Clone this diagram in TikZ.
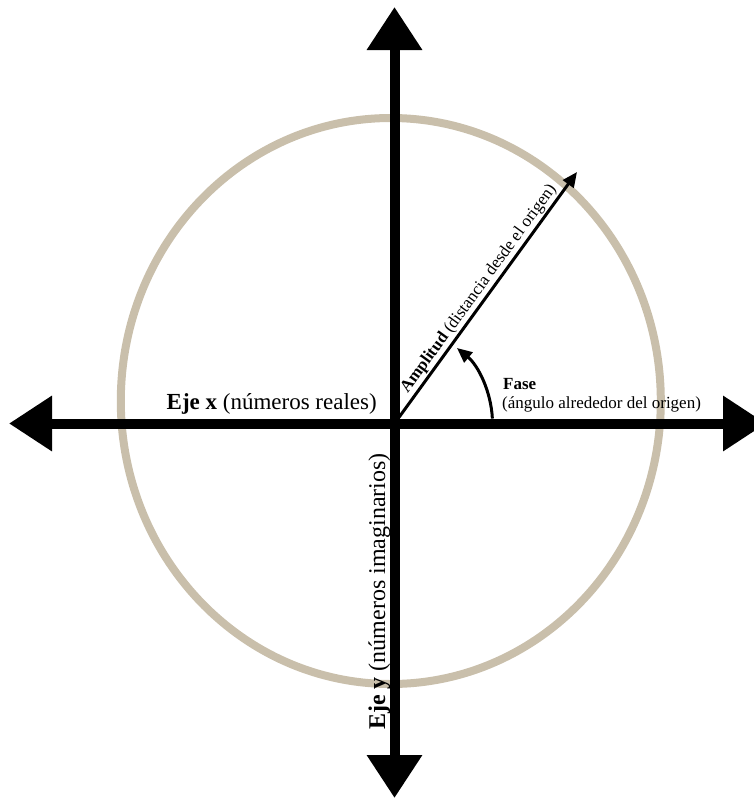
\documentclass[tikz,border=0pt]{standalone}
\usepackage{fontspec}
\setmainfont{Liberation Serif}
\usetikzlibrary{arrows.meta}
\definecolor{ringc}{RGB}{201,191,171}
\begin{document}
\begin{tikzpicture}[x=1pt,y=1pt,
  axisline/.style={line width=10pt, {Triangle[length=43pt,width=53pt]}-{Triangle[length=43pt,width=53pt]}},
  thinarrow/.style={line width=3pt, -{Triangle[length=15pt,width=13pt]}},
  bigtext/.style={inner sep=0pt, font=\fontsize{23}{27}\selectfont},
  smalltext/.style={inner sep=0pt, font=\fontsize{17}{20}\selectfont}]
\useasboundingbox (0,0) rectangle (754,-801);
% ring
\draw[ringc, line width=8pt] (390.8,-401) ellipse [x radius=270, y radius=283];
% coordinates
\coordinate (o) at (394.5,-423.5);
\coordinate (xl) at (9,-423.5);
\coordinate (xr) at (766,-423.5);
\coordinate (yt) at (394.5,-7);
\coordinate (yb) at (394.5,-798);
\coordinate (amp) at (577,-172);
% axes
\draw[axisline] (xl) -- (xr);
\draw[axisline] (yb) -- (yt);
% amplitude
\draw[thinarrow] (o) -- node[sloped, above=1.5pt, pos=0.51, smalltext] (amplabel) {\textbf{Amplitud} (distancia desde el origen)} (amp);
% phase arc
\draw[thinarrow] ([shift={(2.9:98)}]o) arc[start angle=2.9, end angle=50.4, radius=98];
% labels
\node[smalltext, anchor=base west, font=\fontsize{17}{20}\selectfont\bfseries] (fase) at (503,-389) {Fase};
\node[smalltext, anchor=base west] (fasedesc) at (502,-408) {(ángulo alrededor del origen)};
\node[bigtext, anchor=base east] (ejex) at (377,-409) {\textbf{Eje x} (números reales)};
\node[bigtext, font=\fontsize{24}{28}\selectfont, rotate=90, anchor=base west] (ejey) at (385,-730) {\textbf{Eje y} (números imaginarios)};
\end{tikzpicture}
\end{document}
